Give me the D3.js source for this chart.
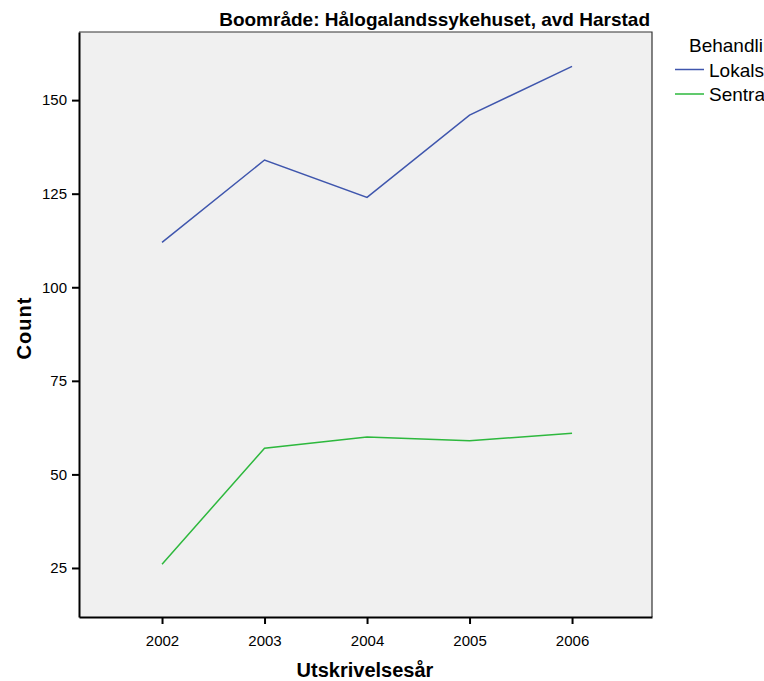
<!DOCTYPE html>
<html>
<head>
<meta charset="utf-8">
<script src="https://cdn.jsdelivr.net/npm/d3@7"></script>
<style>
  body { margin: 0; background: #fff; overflow: hidden; }
  text { font-family: "Liberation Sans", Arial, sans-serif; }
</style>
</head>
<body>
<script>
var years = [2002, 2003, 2004, 2005, 2006];
var lokal = [112, 134, 124, 146, 159];
var sentral = [26, 57, 60, 59, 61];
var yTicks = [25, 50, 75, 100, 125, 150];
var seriesNames = ['Lokalsykehus', 'Sentralsykehus'];
var colors = ['#3f56ad', '#2db83d'];

var width = 764, height = 681;
var margin = {top: 32, right: 112, bottom: 64, left: 79};

var svg = d3.select('body').append('svg')
            .attr('width', width)
            .attr('height', height)
            .style('display', 'block');

var x = d3.scaleLinear().domain([2001.19, 2006.78]).range([margin.left, width - margin.right]);
var y = d3.scaleLinear().domain([11.9, 168.2]).range([height - margin.bottom, margin.top]);

// plot background and thin top/right frame
svg.append('rect')
   .attr('x', margin.left).attr('y', margin.top)
   .attr('width', x.range()[1] - x.range()[0])
   .attr('height', y.range()[0] - y.range()[1])
   .attr('fill', '#f0f0f0')
   .attr('stroke', 'none');
svg.append('path')
   .attr('d', `M${margin.left},${margin.top}H${x.range()[1]}V${y.range()[0]}`)
   .attr('fill', 'none')
   .attr('stroke', '#333')
   .attr('stroke-width', 1.2);

var xAxis = svg.append('g')
   .attr('transform', `translate(0,${height - margin.bottom})`)
   .call(d3.axisBottom(x).tickValues(years).tickFormat(d3.format('d'))
           .tickSizeInner(7).tickSizeOuter(0).tickPadding(11));
var yAxis = svg.append('g')
   .attr('transform', `translate(${margin.left},0)`)
   .call(d3.axisLeft(y).tickValues(yTicks).tickSizeInner(7).tickSizeOuter(0).tickPadding(5));

[xAxis, yAxis].forEach(function(a) {
  a.select('.domain').attr('stroke-width', 2);
  a.selectAll('.tick line').attr('stroke-width', 2);
  a.selectAll('.tick text').attr('font-size', 15).attr('fill', '#000')
   .style('font-family', '"Liberation Sans", Arial, sans-serif');
});
xAxis.selectAll('.tick text').attr('dy', '0.71em');

var line = d3.line().x(function(d, i) { return x(years[i]); }).y(function(d) { return y(d); });

[lokal, sentral].forEach(function(s, i) {
  svg.append('path')
     .datum(s)
     .attr('d', line)
     .attr('fill', 'none')
     .attr('stroke', colors[i])
     .attr('stroke-width', 1.5);
});

svg.append('text')
   .attr('x', 650).attr('y', 26)
   .attr('text-anchor', 'end')
   .attr('font-size', 19).attr('font-weight', 'bold')
   .text('Boområde: Hålogalandssykehuset, avd Harstad');

svg.append('text')
   .attr('transform', 'translate(31,328) rotate(-90)')
   .attr('text-anchor', 'middle')
   .attr('font-size', 20).attr('font-weight', 'bold')
   .attr('letter-spacing', 1)
   .text('Count');

svg.append('text')
   .attr('x', 365).attr('y', 677)
   .attr('text-anchor', 'middle')
   .attr('font-size', 20).attr('font-weight', 'bold')
   .text('Utskrivelsesår');

var legend = svg.append('g');
legend.append('text')
   .attr('x', 689).attr('y', 52)
   .attr('font-size', 19)
   .text('Behandlingsnivå');
seriesNames.forEach(function(n, i) {
  var ly = 69.5 + i * 24.5;
  legend.append('line')
     .attr('x1', 675).attr('x2', 704)
     .attr('y1', ly).attr('y2', ly)
     .attr('stroke', colors[i]).attr('stroke-width', 1.5);
  legend.append('text')
     .attr('x', 709).attr('y', ly + 7)
     .attr('font-size', 19)
     .text(n);
});
</script>
</body>
</html>
